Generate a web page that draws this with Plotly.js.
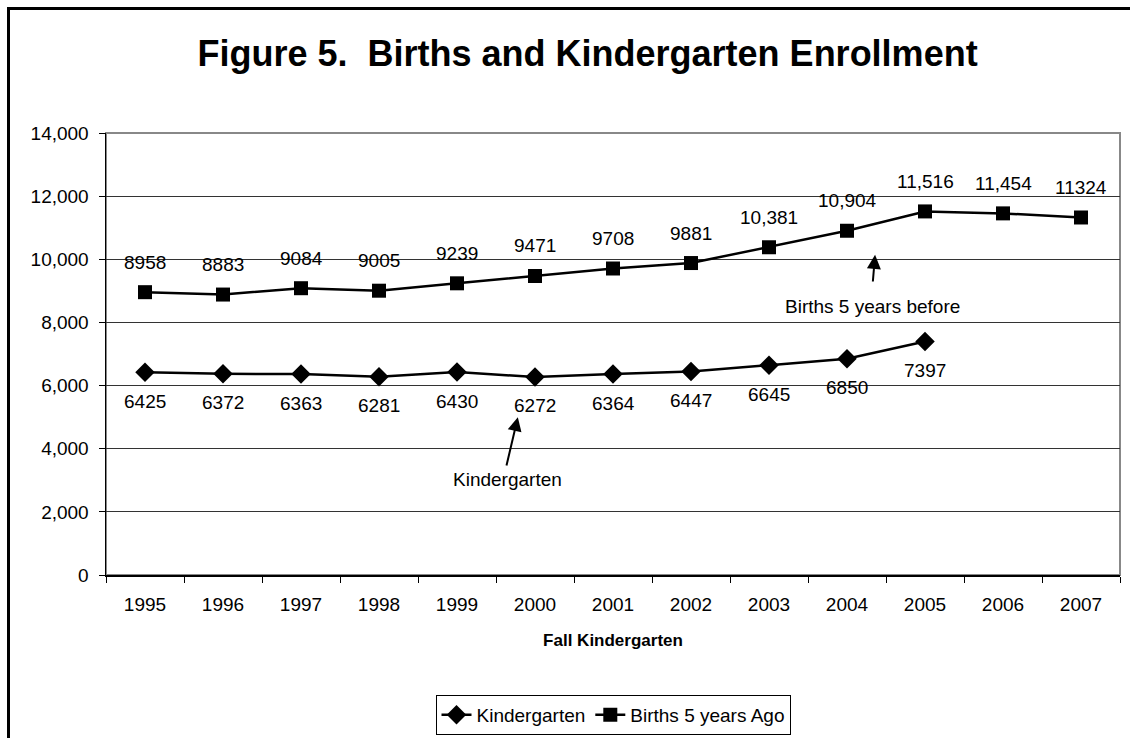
<!DOCTYPE html>
<html>
<head>
<meta charset="utf-8">
<script src="https://cdn.plot.ly/plotly-3.0.1.min.js"></script>
<style>
  html, body { margin: 0; padding: 0; background: #fff; }
  #frame { position: absolute; left: 7px; top: 7px; width: 1200px; height: 800px;
           border-left: 3px solid #000; border-top: 3px solid #000; }
  #chart { position: absolute; left: 0; top: 0; width: 1130px; height: 738px; }
</style>
</head>
<body>
<div id="frame"></div>
<div id="chart"></div>
<script>
const years = ['1995','1996','1997','1998','1999','2000','2001','2002','2003','2004','2005','2006','2007'];
const kinderYears = ['1995','1996','1997','1998','1999','2000','2001','2002','2003','2004','2005'];
const kindergarten = [6425, 6372, 6363, 6281, 6430, 6272, 6364, 6447, 6645, 6850, 7397];
const kinderLabels = ['6425','6372','6363','6281','6430','6272','6364','6447','6645','6850','7397'];
const births = [8958, 8883, 9084, 9005, 9239, 9471, 9708, 9881, 10381, 10904, 11516, 11454, 11324];
const birthLabels = ['8958','8883','9084','9005','9239','9471','9708','9881','10,381','10,904','11,516','11,454','11324'];
const yTicks = [0, 2000, 4000, 6000, 8000, 10000, 12000, 14000];

const FONT = 'Liberation Sans, Arial, sans-serif';

const traces = [
  {
    x: kinderYears, y: kindergarten, name: 'Kindergarten', type: 'scatter', mode: 'lines+markers',
    line: {color: '#000', width: 2.5},
    marker: {symbol: 'diamond', size: 15, color: '#000'},
    hoverinfo: 'skip'
  },
  {
    x: years, y: births, name: 'Births 5 years Ago', type: 'scatter', mode: 'lines+markers',
    line: {color: '#000', width: 2.5},
    marker: {symbol: 'square', size: 14, color: '#000'},
    hoverinfo: 'skip'
  }
];

const annotations = [];
births.forEach((v, i) => annotations.push({
  x: years.indexOf(years[i]), y: v, text: birthLabels[i], showarrow: false, yshift: 30,
  font: {family: FONT, size: 19, color: '#000'}
}));
kindergarten.forEach((v, i) => annotations.push({
  x: years.indexOf(kinderYears[i]), y: v, text: kinderLabels[i], showarrow: false, yshift: -29,
  font: {family: FONT, size: 19, color: '#000'}
}));
// callouts
annotations.push({x: 4.78, y: 5000, ax: 4.63, ay: 3420, axref: 'x', ayref: 'y', text: '',
  showarrow: true, arrowhead: 2, arrowsize: 1.4, arrowwidth: 2, arrowcolor: '#000'});
annotations.push({x: 4.65, y: 3010, text: 'Kindergarten', showarrow: false,
  font: {family: FONT, size: 19, color: '#000'}});
annotations.push({x: 9.36, y: 10140, ax: 9.33, ay: 9250, axref: 'x', ayref: 'y', text: '',
  showarrow: true, arrowhead: 2, arrowsize: 1.4, arrowwidth: 2, arrowcolor: '#000'});
annotations.push({x: 9.33, y: 8490, text: 'Births 5 years before', showarrow: false,
  font: {family: FONT, size: 19, color: '#000'}});

const layout = {
  width: 1130, height: 738,
  margin: {l: 106, r: 10, t: 133, b: 163, autoexpand: false},
  paper_bgcolor: 'rgba(0,0,0,0)',
  plot_bgcolor: '#fff',
  font: {family: FONT, size: 19, color: '#000'},
  title: {
    text: '<b>Figure 5.\u00A0 Births and Kindergarten Enrollment</b>',
    font: {family: FONT, size: 36, color: '#000'},
    xref: 'container', x: 0.52, xanchor: 'center',
    yref: 'container', y: 0.928, yanchor: 'middle'
  },
  xaxis: {
    type: 'category', categoryorder: 'array', categoryarray: years,
    range: [-0.5, 12.5], tickson: 'boundaries', automargin: false,
    ticks: 'outside', ticklen: 6, tickcolor: '#000', tickwidth: 1,
    showline: true, linecolor: '#000', linewidth: 1.5,
    showgrid: false, zeroline: false, ticklabelstandoff: 12,
    tickfont: {family: FONT, size: 19, color: '#000'},
    title: {text: '<b>Fall Kindergarten</b>', standoff: 20,
            font: {family: FONT, size: 17, color: '#000'}}
  },
  yaxis: {
    range: [0, 14000], tickvals: yTicks, tickformat: ',d', automargin: false,
    ticks: 'outside', ticklen: 6, tickcolor: '#000', tickwidth: 1,
    showline: true, linecolor: '#000', linewidth: 1.5,
    showgrid: true, gridcolor: '#333', gridwidth: 1, zeroline: false,
    ticklabelstandoff: 6,
    tickfont: {family: FONT, size: 19, color: '#000'}
  },
  shapes: [
    {type: 'rect', xref: 'paper', yref: 'paper', x0: 0, x1: 1, y0: 0, y1: 1,
     line: {color: '#888', width: 2}, layer: 'below'}
  ],
  showlegend: true,
  legend: {
    orientation: 'h', x: 0.5, xanchor: 'center', y: -0.362, yanchor: 'bottom',
    bordercolor: '#000', borderwidth: 1, bgcolor: '#fff',
    font: {family: FONT, size: 19, color: '#000'},
    itemwidth: 30, tracegroupgap: 0
  },
  annotations: annotations
};

Plotly.newPlot('chart', traces, layout, {displayModeBar: false, staticPlot: true});
</script>
</body>
</html>
